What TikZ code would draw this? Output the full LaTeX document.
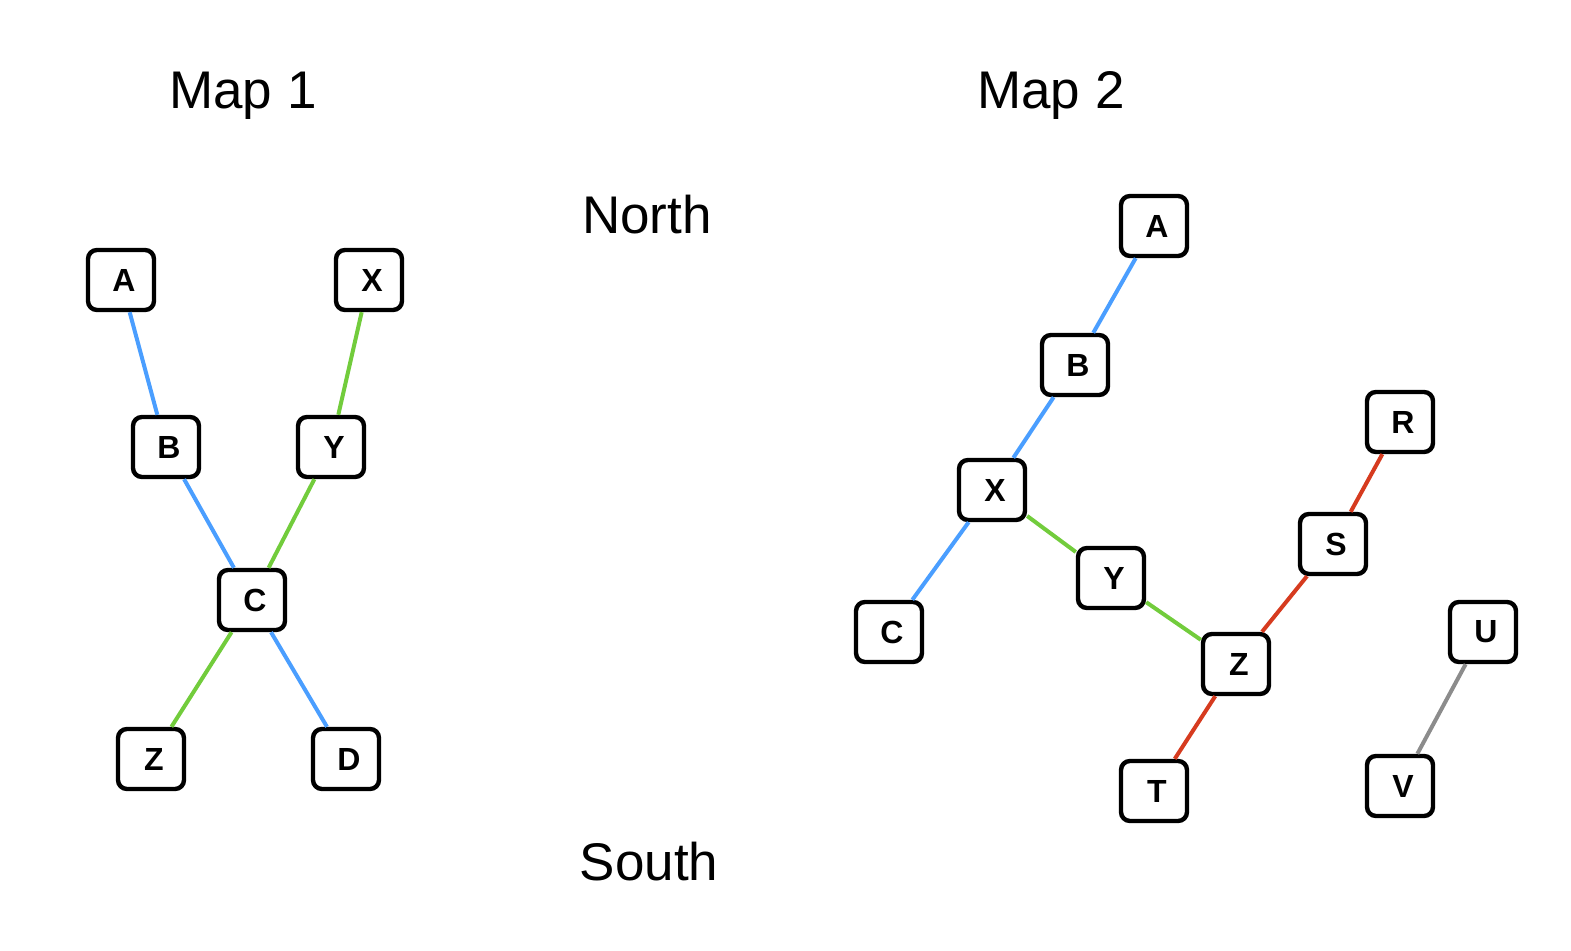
\documentclass[tikz,border=0pt]{standalone}
\usepackage{fontspec}
\setmainfont{Liberation Sans}
\definecolor{eblue}{RGB}{74,158,255}
\definecolor{egreen}{RGB}{114,204,60}
\definecolor{ered}{RGB}{214,59,31}
\definecolor{egray}{RGB}{140,140,140}
\begin{document}
\begin{tikzpicture}[x=0.5pt,y=-0.5pt,
  box/.style={draw=black,line width=2.2pt,rounded corners=4.5pt,fill=white,
    minimum width=33pt,minimum height=30pt,inner sep=0pt,
    execute at begin node={\hspace*{3pt}},
    font=\fontsize{16}{18}\selectfont\bfseries},
  title/.style={font=\fontsize{26.5}{30}\selectfont},
  eb/.style={draw=eblue,line width=2pt},
  eg/.style={draw=egreen,line width=2pt},
  er/.style={draw=ered,line width=2pt},
  ey/.style={draw=egray,line width=2pt}]
\useasboundingbox (0,0) rectangle (1571,951);
% titles
\node[title] (t1) at (243,96) {Map 1};
\node[title] (t2) at (1051,96) {Map 2};
\node[title] (north) at (647,215) {North};
\node[title] (south) at (649,862) {South};
% Map 1 nodes
\node[box] (a1) at (121,280) {A};
\node[box] (x1) at (369,280) {X};
\node[box] (b1) at (166,447) {B};
\node[box] (y1) at (331,447) {Y};
\node[box] (c1) at (252,600) {C};
\node[box] (z1) at (151,759) {Z};
\node[box] (d1) at (346,759) {D};
% Map 2 nodes
\node[box] (a2) at (1154,226) {A};
\node[box] (b2) at (1075,365) {B};
\node[box] (x2) at (992,490) {X};
\node[box] (c2) at (889,632) {C};
\node[box] (y2) at (1111,578) {Y};
\node[box] (z2) at (1236,664) {Z};
\node[box] (s2) at (1333,544) {S};
\node[box] (r2) at (1400,422) {R};
\node[box] (t2n) at (1154,791) {T};
\node[box] (u2) at (1483,632) {U};
\node[box] (v2) at (1400,786) {V};
% Map 1 edges
\draw[eb] (a1) -- (b1);
\draw[eb] (b1) -- (c1);
\draw[eb] (c1) -- (d1);
\draw[eg] (x1) -- (y1);
\draw[eg] (y1) -- (c1);
\draw[eg] (c1) -- (z1);
% Map 2 edges
\draw[eb] (a2) -- (b2);
\draw[eb] (b2) -- (x2);
\draw[eb] (x2) -- (c2);
\draw[eg] (x2) -- (y2);
\draw[eg] (y2) -- (z2);
\draw[er] (z2) -- (s2);
\draw[er] (s2) -- (r2);
\draw[er] (z2) -- (t2n);
\draw[ey] (u2) -- (v2);
\end{tikzpicture}
\end{document}
